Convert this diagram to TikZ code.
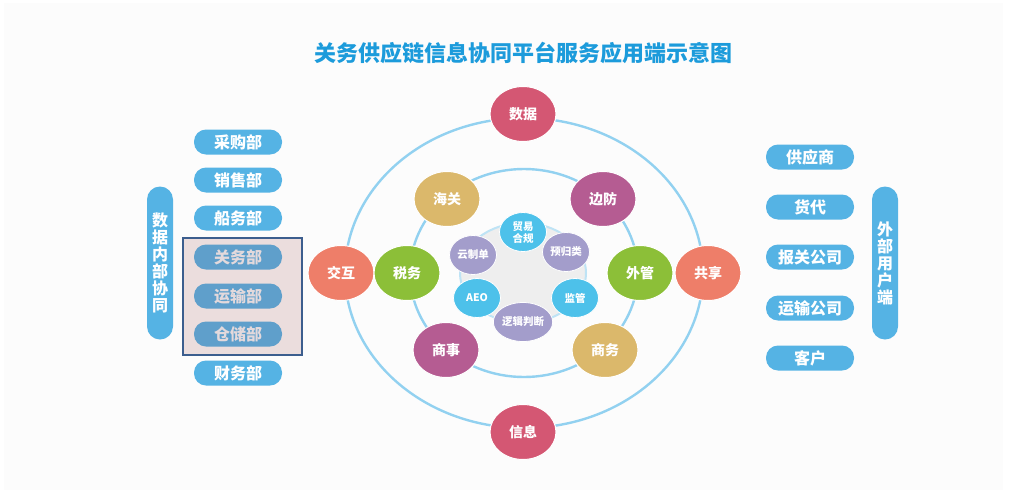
\documentclass[tikz,border=0pt]{standalone}
\usepackage{fontspec}
\setmainfont{Noto Sans CJK SC}
\usetikzlibrary{shapes.geometric}
\definecolor{pillblue}{HTML}{55B3E4}
\definecolor{titleblue}{HTML}{1C9BDB}
\definecolor{ringblue}{HTML}{92D1F0}
\definecolor{crimson}{HTML}{D45773}
\definecolor{salmon}{HTML}{EE7E69}
\definecolor{gold}{HTML}{DBB86B}
\definecolor{plum}{HTML}{B55C92}
\definecolor{leaf}{HTML}{8CBF38}
\definecolor{skyb}{HTML}{4DC1EA}
\definecolor{lav}{HTML}{A39DCB}
\definecolor{coregray}{HTML}{EEEEEE}
\definecolor{coreline}{HTML}{BEE3F5}
\definecolor{boxfill}{HTML}{EBDDDD}
\definecolor{boxline}{HTML}{3C5E8E}
\definecolor{mutedpill}{HTML}{5F9FCB}
\definecolor{mutedtext}{HTML}{E3D9DC}
\definecolor{slide}{HTML}{FCFCFC}
\tikzset{
  pill/.style={rectangle, rounded corners=12pt, fill=pillblue, minimum width=88pt, minimum height=25pt, inner sep=0pt, text=white, font=\bfseries\fontsize{16}{16}\selectfont},
  mpill/.style={pill, fill=mutedpill, text=mutedtext},
  vpill/.style={rectangle, rounded corners=13pt, fill=pillblue, minimum width=26pt, minimum height=153pt, inner sep=0pt, text=white, align=center, font=\bfseries\fontsize{16}{17}\selectfont},
  bigc/.style={ellipse, draw=white, line width=1pt, minimum width=66pt, minimum height=55pt, inner sep=0pt, text=white, font=\bfseries\fontsize{14}{14}\selectfont},
  smallc/.style={ellipse, draw=white, line width=0.8pt, minimum width=47pt, minimum height=39pt, inner sep=0pt, text=white, align=center, font=\bfseries\fontsize{10.5}{12}\selectfont},
  ring/.style={draw=ringblue, line width=2.4pt}
}
\begin{document}
\begin{tikzpicture}[x=1pt,y=-1pt]
\useasboundingbox (0,0) rectangle (1032,490);
\fill[white] (0,0) rectangle (1032,490);
\fill[slide] (4,3) rectangle (1003,490);

\node[font=\bfseries\fontsize{22}{22}\selectfont, text=titleblue] (title) at (523,53) {关务供应链信息协同平台服务应用端示意图};

% rings
\draw[ring] (524,273) ellipse [x radius=179, y radius=155];
\draw[ring] (524,273) ellipse [x radius=114, y radius=104];
\draw[draw=coreline, fill=coregray, line width=2pt] (523,273) ellipse [x radius=63, y radius=50];

% outer ring nodes
\node[bigc, fill=crimson] (shuju) at (523,114) {数据};
\node[bigc, fill=crimson] (xinxi) at (523,432) {信息};
\node[bigc, fill=salmon] (jiaohu) at (341,273) {交互};
\node[bigc, fill=salmon] (gongxiang) at (708,273) {共享};

% inner ring nodes
\node[bigc, fill=gold] (haiguan) at (447,199) {海关};
\node[bigc, fill=plum] (bianfang) at (603,199) {边防};
\node[bigc, fill=leaf] (shuiwu) at (407,273) {税务};
\node[bigc, fill=leaf] (waiguan) at (640,273) {外管};
\node[bigc, fill=plum] (shangshi) at (446,350) {商事};
\node[bigc, fill=gold] (shangwu) at (605,350) {商务};

% core nodes
\node[smallc, fill=skyb] (maoyi) at (523,232) {贸易\\合规};
\node[smallc, fill=lav] (yugui) at (566,252) {预归类};
\node[smallc, fill=lav] (yunzhi) at (473,255) {云制单};
\node[smallc, fill=skyb] (aeo) at (477,298) {AEO};
\node[smallc, fill=skyb] (jianguan) at (575,298) {监管};
\node[smallc, fill=lav] (luoji) at (523,322) {逻辑判断};

% left side
\node[vpill] (neibu) at (160,263) {数\\据\\内\\部\\协\\同};
\node[pill] (caigou) at (238,142) {采购部};
\node[pill] (xiaoshou) at (238,180) {销售部};
\node[pill] (chuanwu) at (238,218) {船务部};
\node[draw=boxline, fill=boxfill, line width=2pt, minimum width=119pt, minimum height=117pt, inner sep=0pt] (hbox) at (242,296) {};
\node[mpill] (guanwu) at (238,257) {关务部};
\node[mpill] (yunshu) at (238,296) {运输部};
\node[mpill] (cangchu) at (238,334) {仓储部};
\node[pill] (caiwu) at (238,373) {财务部};

% right side
\node[pill] (gongying) at (810,157) {供应商};
\node[pill] (huodai) at (810,207) {货代};
\node[pill] (baoguan) at (810,257) {报关公司};
\node[pill] (yunshugs) at (810,308) {运输公司};
\node[pill] (kehu) at (810,358) {客户};
\node[vpill] (waibu) at (885,263) {外\\部\\用\\户\\端};
\end{tikzpicture}
\end{document}
